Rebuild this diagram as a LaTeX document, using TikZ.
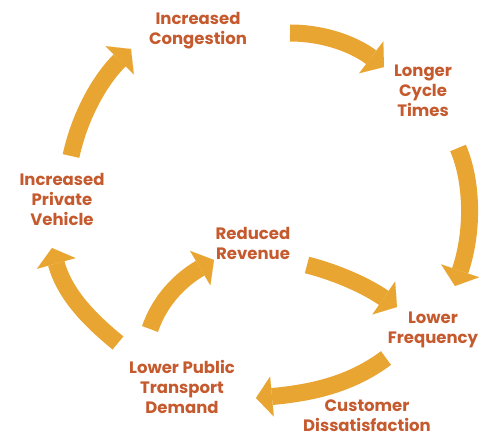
\documentclass[tikz,border=0pt]{standalone}
\usepackage{fontspec}
\setmainfont{Poppins}
\usetikzlibrary{arrows.meta}
\definecolor{arrowgold}{HTML}{E8A532}
\definecolor{labeltext}{HTML}{C55A2E}
\tikzset{
  lbl/.style={text=labeltext, font=\fontsize{16.5}{20}\selectfont\bfseries, align=center, inner sep=0pt},
  bigarrow/.style={draw=arrowgold, line width=17pt,
    -{Triangle[length=16pt, width=40pt, line width=0.01pt, fill=arrowgold]}}
}
\begin{document}
\begin{tikzpicture}[x=1pt,y=1pt]
\useasboundingbox (0,0) rectangle (489,-441);
% labels
\node[lbl] (cong) at (198,-31) {Increased\\Congestion};
\node[lbl] (cyc) at (423,-91) {Longer\\Cycle\\Times};
\node[lbl] (priv) at (62,-199) {Increased\\Private\\Vehicle};
\node[lbl] (rev) at (253,-243) {Reduced\\Revenue};
\node[lbl] (freq) at (433,-330) {Lower\\Frequency};
\node[lbl] (dem) at (182,-387) {Lower Public\\Transport\\Demand};
\node[lbl] (dis) at (367,-416) {Customer\\Dissatisfaction};
% arrow end points
\coordinate (a1s) at (290,-33);  \coordinate (a1e) at (384,-67);
\coordinate (a2s) at (458,-148); \coordinate (a2e) at (455,-286);
\coordinate (a3s) at (386,-358); \coordinate (a3e) at (256,-398);
\coordinate (a4s) at (118,-343); \coordinate (a4e) at (52,-248);
\coordinate (a5s) at (71,-156);  \coordinate (a5e) at (131,-49);
\coordinate (a6s) at (150,-329); \coordinate (a6e) at (214,-260);
\coordinate (a7s) at (307,-265); \coordinate (a7e) at (397,-307);
% arrows
\draw[bigarrow] (a1s) .. controls (325,-33) and (355,-45) .. (a1e);
\draw[bigarrow] (a2s) .. controls (472,-180) and (474,-230) .. (a2e);
\draw[bigarrow] (a3s) .. controls (350,-385) and (310,-393) .. (a3e);
\draw[bigarrow] (a4s) .. controls (90,-320) and (65,-295) .. (a4e);
\draw[bigarrow] (a5s) .. controls (80,-115) and (100,-80) .. (a5e);
\draw[bigarrow] (a6s) .. controls (160,-300) and (180,-280) .. (a6e);
\draw[bigarrow] (a7s) .. controls (335,-272) and (365,-285) .. (a7e);
\end{tikzpicture}
\end{document}
